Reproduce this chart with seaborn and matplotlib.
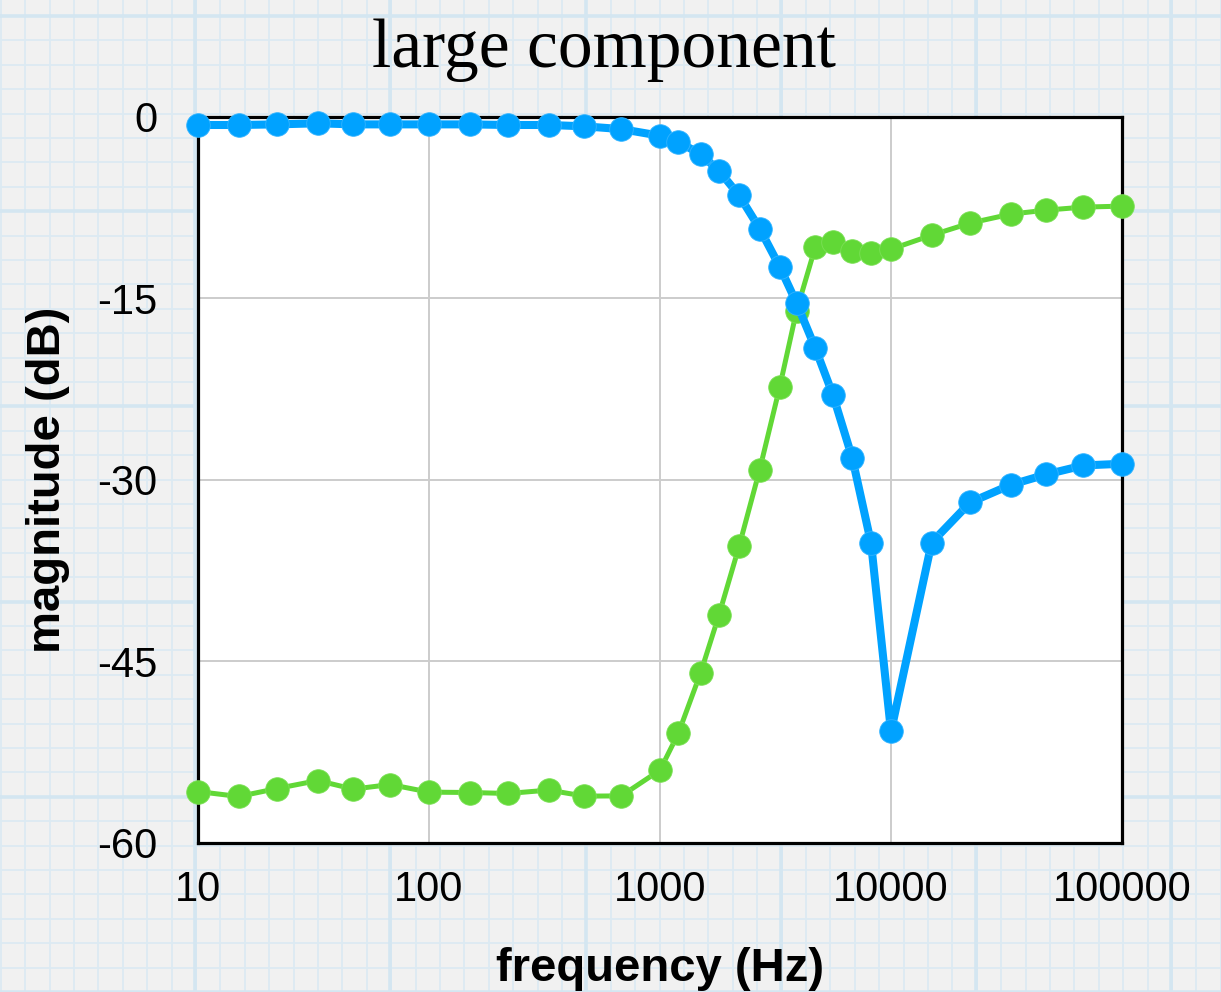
import numpy as np
import pandas as pd
import matplotlib
matplotlib.use("Agg")
import matplotlib.pyplot as plt
import seaborn as sns

# ---- data ----
freq = [10, 15, 22, 33, 47, 68, 100, 150, 220, 330, 470, 680, 1000, 1200, 1500,
        1800, 2200, 2700, 3300, 3900, 4700, 5600, 6800, 8200, 10000, 15000,
        22000, 33000, 47000, 68000, 100000]
blue_db = [-0.66, -0.66, -0.61, -0.52, -0.61, -0.61, -0.61, -0.61, -0.66, -0.66,
           -0.77, -1.0, -1.55, -2.04, -3.09, -4.44, -6.48, -9.22, -12.39, -15.37,
           -19.1, -22.95, -28.2, -35.24, -50.8, -35.18, -31.87, -30.41, -29.55,
           -28.81, -28.67]
green_db = [-55.77, -56.18, -55.52, -54.86, -55.57, -55.19, -55.82, -55.85, -55.93,
            -55.65, -56.15, -56.13, -54.0, -50.97, -45.94, -41.17, -35.49, -29.17,
            -22.3, -16.03, -10.76, -10.35, -11.09, -11.26, -10.93, -9.77, -8.77,
            -8.03, -7.70, -7.45, -7.37]
x_ticks = [10, 100, 1000, 10000, 100000]
x_tick_labels = ["10", "100", "1000", "10000", "100000"]
y_ticks = [0, -15, -30, -45, -60]
y_tick_labels = ["0", "-15", "-30", "-45", "-60"]
title = "large component"
xlabel = "frequency (Hz)"
ylabel = "magnitude (dB)"

blue_df = pd.DataFrame({"freq": freq, "db": blue_db})
green_df = pd.DataFrame({"freq": freq, "db": green_db})

sns.set_theme(style="white")
plt.rcParams["font.family"] = ["Liberation Sans", "DejaVu Sans"]

W, H = 1221, 992
fig = plt.figure(figsize=(W / 100, H / 100), dpi=100)
fig.patch.set_facecolor("#f1f1f1")

# ---- graph-paper background ----
bg = fig.add_axes([0, 0, 1, 1], zorder=-10)
bg.set_xlim(0, W)
bg.set_ylim(H, 0)
bg.axis("off")
step = 24.4
minor_col = "#dceaf3"
xs = np.arange(0.8, W + 1, step)
ys = np.arange(16 - step, H + 1, step)
bg.vlines(xs, 0, H, color=minor_col, lw=1.3)
bg.hlines(ys, 0, W, color=minor_col, lw=1.3)
bg.vlines(np.arange(195.2, W + 1, step * 8), 0, H, color="#d4e6f1", lw=2.6)
bg.hlines(np.arange(16, H + 1, step * 8), 0, W, color="#d4e6f1", lw=2.6)

# ---- main axes ----
left, right = 198 / W, 1122 / W
top, bottom = 117 / H, 842.7 / H
ax = fig.add_axes([left, 1 - bottom, right - left, bottom - top])
ax.set_facecolor("white")

sns.lineplot(data=green_df, x="freq", y="db", ax=ax, color="#61d836", lw=3.6,
             marker="o", markersize=17, markeredgecolor="#7be055",
             markeredgewidth=0.6, clip_on=False, zorder=4)
sns.lineplot(data=blue_df, x="freq", y="db", ax=ax, color="#00a2ff", lw=5.8,
             marker="o", markersize=17, markeredgecolor="#33b4ff",
             markeredgewidth=0.6, clip_on=False, zorder=5)

ax.set_xscale("log")
ax.set_xlim(10, 100000)
ax.set_ylim(-60, 0)
ax.set_xticks(x_ticks)
ax.set_xticklabels(x_tick_labels)
ax.set_yticks(y_ticks)
ax.set_yticklabels(y_tick_labels)
ax.minorticks_off()
ax.tick_params(axis="both", length=0, labelsize=30, colors="black")
ax.tick_params(axis="x", pad=20)
ax.tick_params(axis="y", pad=29)

ax.grid(True, color="#cccccc", lw=1.4)
ax.set_axisbelow(True)
for s in ax.spines.values():
    s.set_visible(True)
    s.set_color("black")
    s.set_linewidth(2.3)
    s.set_zorder(3)

ax.set_xlabel(xlabel, fontsize=34, fontweight="bold", color="black")
ax.xaxis.label.set_va("baseline")
ax.xaxis.set_label_coords(0.5, (842.7 - 981) / (842.7 - 117))
ax.set_ylabel(ylabel, fontsize=34, fontweight="bold", color="black")
ax.yaxis.set_label_coords((70 - 198) / (1122 - 198), 0.5)

fig.text(604 / W, 1 - 67 / H, title, ha="center", va="baseline",
         fontsize=50, family=["Liberation Serif", "DejaVu Serif"], color="black")

fig.savefig("out.png", dpi=100, facecolor=fig.get_facecolor())
